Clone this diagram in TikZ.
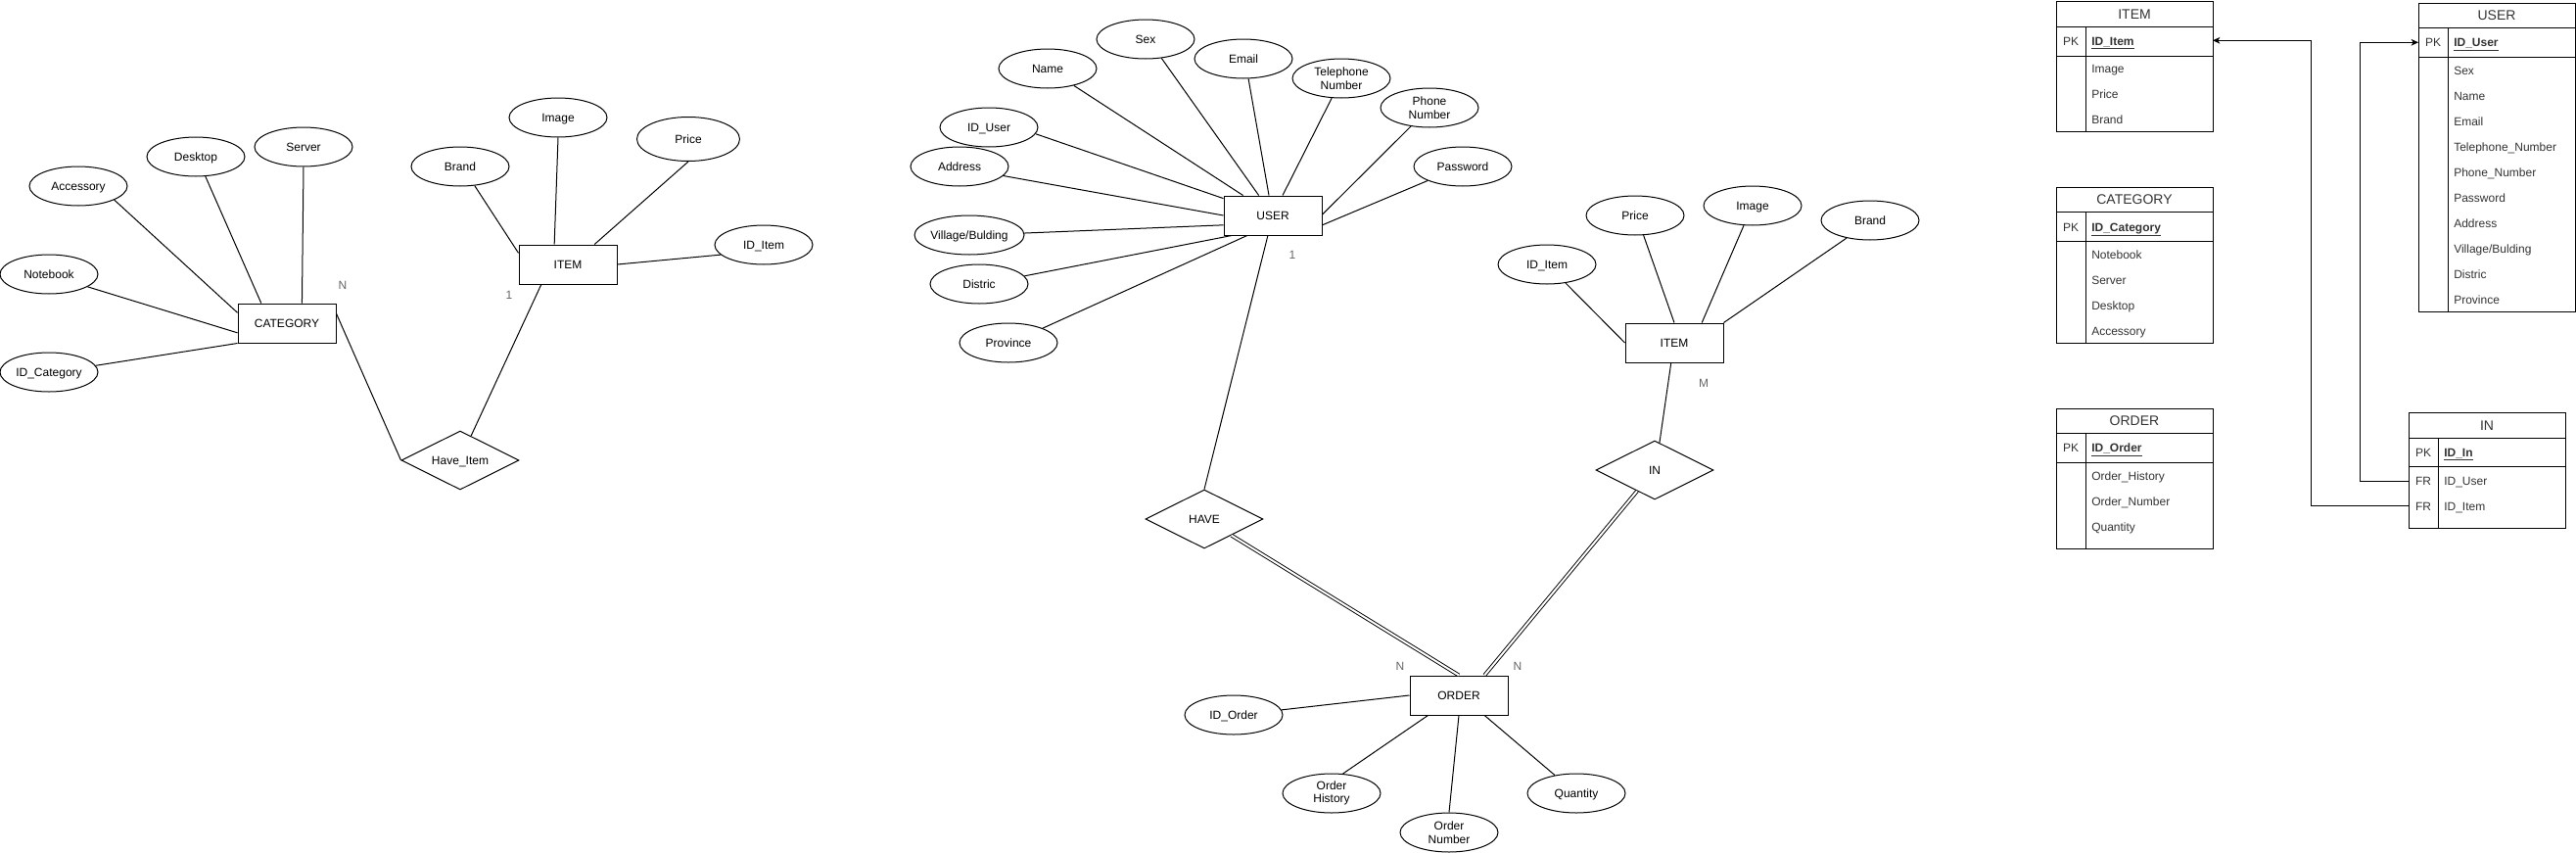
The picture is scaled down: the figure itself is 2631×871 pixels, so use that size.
\documentclass[tikz,border=0pt]{standalone}
\usepackage{fontspec}
\setmainfont{Liberation Sans}
\usetikzlibrary{shapes.geometric,arrows.meta,calc}
\begin{document}
\begin{tikzpicture}[x=0.75pt,y=-0.75pt,
 every node/.style={font=\fontsize{9}{10.3}\selectfont},
 shp/.style={draw,line width=0.75pt,inner sep=0pt},
 attrm/.style={shp,ellipse,minimum width=75pt,minimum height=30pt,align=center},
 attr/.style={shp,ellipse,minimum width=75pt,minimum height=30pt,text height=6.5pt,text depth=0pt},
 ent/.style={shp,rectangle,minimum width=75pt,minimum height=30pt,text height=6.5pt,text depth=0pt},
 rel/.style={shp,diamond,aspect=2,minimum width=90pt,minimum height=45pt,text height=6.5pt,text depth=0pt},
 card/.style={text=black!60,anchor=base,inner sep=0pt},
 conn/.style={line width=0.75pt},
 dbl/.style={line width=0.7pt,double,double distance=1.5pt},
 tbox/.style={draw,line width=0.75pt,rectangle,inner sep=0pt,minimum width=120pt,anchor=north west},
 tl/.style={line width=0.75pt},
 th/.style={font=\fontsize{10.5}{12}\selectfont,text=black!80,anchor=base,inner sep=0pt},
 tf/.style={text=black!80,anchor=base west,inner sep=0pt},
 tk/.style={text=black!80,anchor=base,inner sep=0pt},
 fk/.style={line width=0.75pt,-{Stealth[length=5.5pt,width=5pt,inset=1.5pt]}}
]
\useasboundingbox (0,0) rectangle (2631,871);

%% ---------------- LEFT SECTION ----------------
\node[attr] (acc) at (80,190) {Accessory};
\node[attr] (desk) at (200,160) {Desktop};
\node[attr] (srv) at (310,150) {Server};
\node[attr] (nb) at (50,280) {Notebook};
\node[attr] (idc) at (50,380) {ID\_Category};
\node[ent] (cat) at (293,330) {CATEGORY};
\node[attr] (brandA) at (470,170) {Brand};
\node[attr] (imgA) at (570,120) {Image};
\node[attr,minimum width=78.75pt,minimum height=33.75pt] (priceA) at (703,142) {Price};
\node[attr] (iditemA) at (780,250) {ID\_Item};
\node[ent] (itemA) at (580,270) {ITEM};
\node[rel] (hitem) at (470,470) {Have\_Item};
\node[card] (cN) at (350,295.3) {N};
\node[card] (cOne) at (520,305.3) {1};

\draw[conn] (acc.-21.5) -- (cat.168.7);
\draw[conn] (desk.-64) -- (cat.142.4);
\draw[conn] (srv.south) -- (cat.53.1);
\draw[conn] (nb.-18.9) -- (cat.191.3);
\draw[conn] (idc.8.5) -- (cat.south west);
\draw[conn] (cat.11.3) -- (hitem.west);
\draw[conn] (itemA.217.6) -- (hitem.66.3);
\draw[conn] (brandA.-53.6) -- (itemA.167.6);
\draw[conn] (imgA.south) -- (itemA.124);
\draw[conn] (priceA.south) -- (itemA.37.6);
\draw[conn] (iditemA.193.2) -- (itemA.east);

%% ---------------- CENTER SECTION ----------------
\node[ent] (user) at (1300,220) {USER};
\node[attr] (sex) at (1170,40) {Sex};
\node[attr] (name) at (1070,70) {Name};
\node[attr] (email) at (1270,60) {Email};
\node[attrm] (tel) at (1370,80) {Telephone\\Number};
\node[attrm] (phone) at (1460,110) {Phone\\Number};
\node[attr] (pw) at (1494,170) {Password};
\node[attr] (iduser) at (1010,130) {ID\_User};
\node[attr] (addr) at (980,170) {Address};
\node[attr] (vill) at (990,240) {Village/Bulding};
\node[attr] (dist) at (1000,290) {Distric};
\node[attr] (prov) at (1030,350) {Province};
\node[rel] (have) at (1230,530) {HAVE};
\node[ent] (order) at (1490,710) {ORDER};
\node[rel] (inrel) at (1690,480) {IN};
\node[ent] (itemB) at (1710,350) {ITEM};
\node[attr] (iditemB) at (1580,270) {ID\_Item};
\node[attr] (priceB) at (1670,220) {Price};
\node[attr] (imgB) at (1790,210) {Image};
\node[attr] (brandB) at (1910,225) {Brand};
\node[attr] (idorder) at (1260,730) {ID\_Order};
\node[attrm] (ohist) at (1360,810) {Order\\History};
\node[attrm] (onum) at (1480,850) {Order\\Number};
\node[attr] (qty) at (1610,810) {Quantity};
\node[card] (cUone) at (1320,264.3) {1};
\node[card] (cM) at (1740,395.3) {M};
\node[card] (cNa) at (1430,684.3) {N};
\node[card] (cNb) at (1550,684.3) {N};

\draw[conn] (name.-33) -- (user.146.7);
\draw[conn] (sex.-50.5) -- (user.125);
\draw[conn] (email.-76) -- (user.101.3);
\draw[conn] (tel.-116.5) -- (user.64.1);
\draw[conn] (phone.-135.3) -- (user.1.1);
\draw[conn] (pw.-158) -- (user.-11.3);
\draw[conn] (iduser.-8.5) -- (user.161.5);
\draw[conn] (addr.-12) -- (user.west);
\draw[conn] (vill.2) -- (user.191.3);
\draw[conn] (dist.10.6) -- (user.206);
\draw[conn] (prov.23.2) -- (user.218.7);
\draw[conn] (user.256) -- (have.north);
\draw[dbl] (have.-31.5) -- (order.north);
\draw[dbl] (inrel.-130.6) -- (order.38.7);
\draw[conn] (itemB.-99) -- (inrel.80.4);
\draw[conn] (iditemB.-45) -- (itemB.west);
\draw[conn] (priceB.-67) -- (itemB.north);
\draw[conn] (imgB.-114.8) -- (itemB.36.9);
\draw[conn] (brandB.-143.6) -- (itemB.north east);
\draw[conn] (idorder.6.8) -- (order.west);
\draw[conn] (ohist.60.3) -- (order.213.7);
\draw[conn] (onum.north) -- (order.south);
\draw[conn] (qty.140) -- (order.-38.7);

%% ---------------- TABLES ----------------
% ITEM table
\node[tbox,minimum height=100.1pt] (tItem) at (2100,0.5) {};
\draw[tl] (2100,27) -- (2260,27);
\draw[tl] (2100,57) -- (2260,57);
\draw[tl] (2130,27) -- (2130,134);
\node[th] (tItemH) at (2180,19) {ITEM};
\node[tk] (tItemPK) at (2115,46.3) {PK};
\node[tf] (tItemK) at (2136,46.3) {\textbf{\underline{ID\_Item}}};
\node[tf] (tItem1) at (2136,74.3) {Image};
\node[tf] (tItem2) at (2136,100.3) {Price};
\node[tf] (tItem3) at (2136,126.3) {Brand};
\coordinate (itemPK) at (2260,41.3);

% CATEGORY table
\node[tbox,minimum height=119.7pt] (tCat) at (2100,190.7) {};
\draw[tl] (2100,216.7) -- (2260,216.7);
\draw[tl] (2100,246.7) -- (2260,246.7);
\draw[tl] (2130,216.7) -- (2130,350.3);
\node[th] (tCatH) at (2180,208.7) {CATEGORY};
\node[tk] (tCatPK) at (2115,236) {PK};
\node[tf] (tCatK) at (2136,236) {\textbf{\underline{ID\_Category}}};
\node[tf] (tCat1) at (2136,264.3) {Notebook};
\node[tf] (tCat2) at (2136,290.3) {Server};
\node[tf] (tCat3) at (2136,316.3) {Desktop};
\node[tf] (tCat4) at (2136,342.3) {Accessory};

% ORDER table
\node[tbox,minimum height=107.5pt] (tOrd) at (2100,416.7) {};
\draw[tl] (2100,442.3) -- (2260,442.3);
\draw[tl] (2100,472) -- (2260,472);
\draw[tl] (2130,442.3) -- (2130,560);
\node[th] (tOrdH) at (2180,434.5) {ORDER};
\node[tk] (tOrdPK) at (2115,461.5) {PK};
\node[tf] (tOrdK) at (2136,461.5) {\textbf{\underline{ID\_Order}}};
\node[tf] (tOrd1) at (2136,490.3) {Order\_History};
\node[tf] (tOrd2) at (2136,516.3) {Order\_Number};
\node[tf] (tOrd3) at (2136,542.3) {Quantity};

% USER table
\node[tbox,minimum height=236.7pt] (tUser) at (2470,2.7) {};
\draw[tl] (2470,28.3) -- (2630,28.3);
\draw[tl] (2470,58.3) -- (2630,58.3);
\draw[tl] (2500,28.3) -- (2500,318.3);
\node[th] (tUserH) at (2550,20.5) {USER};
\node[tk] (tUserPK) at (2485,47.6) {PK};
\node[tf] (tUserK) at (2506,47.6) {\textbf{\underline{ID\_User}}};
\node[tf] (tU1) at (2506,76.3) {Sex};
\node[tf] (tU2) at (2506,102.3) {Name};
\node[tf] (tU3) at (2506,128.3) {Email};
\node[tf] (tU4) at (2506,154.3) {Telephone\_Number};
\node[tf] (tU5) at (2506,180.3) {Phone\_Number};
\node[tf] (tU6) at (2506,206.3) {Password};
\node[tf] (tU7) at (2506,232.3) {Address};
\node[tf] (tU8) at (2506,258.3) {Village/Bulding};
\node[tf] (tU9) at (2506,284.3) {Distric};
\node[tf] (tU10) at (2506,310.3) {Province};
\coordinate (userPK) at (2470,43.3);

% IN table
\node[tbox,minimum height=88.7pt] (tIn) at (2460,421) {};
\draw[tl] (2460,447.3) -- (2620,447.3);
\draw[tl] (2460,476) -- (2620,476);
\draw[tl] (2490,447.3) -- (2490,539.3);
\node[th] (tInH) at (2540,439.2) {IN};
\node[tk] (tInPK) at (2475,466) {PK};
\node[tf] (tInK) at (2496,466) {\textbf{\underline{ID\_In}}};
\node[tk] (tInF1) at (2475,495.3) {FR};
\node[tf] (tIn1) at (2496,495.3) {ID\_User};
\node[tk] (tInF2) at (2475,521) {FR};
\node[tf] (tIn2) at (2496,521) {ID\_Item};
\coordinate (inU) at (2460,491);
\coordinate (inI) at (2460,516.7);

\draw[fk] (inU) -- ++(-49.3,0) |- (userPK);
\draw[fk] (inI) -- ++(-100,0) |- (itemPK);
\end{tikzpicture}
\end{document}
